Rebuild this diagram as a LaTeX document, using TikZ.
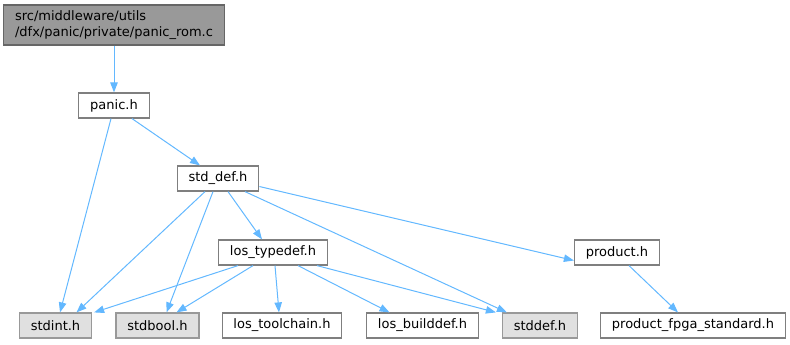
\documentclass[tikz,border=0pt]{standalone}
\usepackage{fontspec}
\setmainfont{DejaVu Sans}
\usepackage{xcolor}
\usepackage{tikz}
\usetikzlibrary{arrows.meta}
\definecolor{edgeblue}{HTML}{63B8FF}
\definecolor{rootgray}{HTML}{999999}
\definecolor{rootframe}{HTML}{666666}
\definecolor{sysgray}{HTML}{E0E0E0}
\definecolor{framegray}{HTML}{7F7F7F}
\tikzset{
  file/.style={rectangle, draw=framegray, fill=white, line width=0.9pt, minimum height=18.75pt, inner xsep=8.5pt, inner ysep=0pt, font=\fontsize{9.75}{11.7}\selectfont},
  rootfile/.style={file, draw=rootframe, fill=rootgray, align=left, minimum height=30pt},
  sysfile/.style={file, draw=rootgray, fill=sysgray},
  dep/.style={-{Triangle[length=7.5pt, width=5.6pt]}, draw=edgeblue, line width=0.75pt}
}

\begin{document}
\begin{tikzpicture}[x=0.75pt, y=-0.75pt]
\useasboundingbox (0,0) rectangle (790,344);
\node[rootfile] (rom) at (114,25) {src/middleware/utils\\/dfx/panic/private/panic\_rom.c};
\node[file] (panic) at (114,105.5) {panic.h};
\node[file] (stddefh) at (218,178.5) {std\_def.h};
\node[file] (typedef) at (273,252.5) {los\_typedef.h};
\node[file] (product) at (617,252.5) {product.h};
\node[sysfile] (stdint) at (55.5,325.5) {stdint.h};
\node[sysfile] (stdbool) at (157.5,325.5) {stdbool.h};
\node[file] (toolchain) at (282,325.5) {los\_toolchain.h};
\node[file] (builddef) at (422.5,325.5) {los\_builddef.h};
\node[sysfile] (stddef) at (540,325.5) {stddef.h};
\node[file] (fpga) at (693,325.5) {product\_fpga\_standard.h};
\draw[dep] (rom) -- (panic);
\draw[dep] ([xshift=-2.25pt]panic.south) -- ([xshift=3.4pt]stdint.north);
\draw[dep] ([xshift=13.5pt]panic.south) -- ([xshift=-13.5pt]stddefh.north);
\draw[dep] ([xshift=-9.75pt]stddefh.south) -- ([xshift=15.75pt]stdint.north);
\draw[dep] ([xshift=-3.75pt]stddefh.south) -- ([xshift=6.75pt]stdbool.north);
\draw[dep] ([xshift=7.5pt]stddefh.south) -- ([xshift=-8.25pt]typedef.north);
\draw[dep] ([xshift=20.25pt]stddefh.south) -- ([xshift=3.75pt]stddef.north west);
\draw[dep] ([yshift=-6pt]stddefh.east) -- ([yshift=-6pt]product.west);
\draw[dep] ([xshift=-26.25pt]typedef.south) -- ([xshift=1.5pt]stdint.north east);
\draw[dep] ([xshift=-15pt]typedef.south) -- ([xshift=14.25pt]stdbool.north);
\draw[dep] ([xshift=1.5pt]typedef.south) -- ([xshift=-2.25pt]toolchain.north);
\draw[dep] ([xshift=18.75pt]typedef.south) -- ([xshift=-24.75pt]builddef.north);
\draw[dep] ([xshift=33pt]typedef.south) -- ([xshift=-4.5pt]stddef.north west);
\draw[dep] ([xshift=9pt]product.south) -- ([xshift=-11.25pt]fpga.north);
\end{tikzpicture}
\end{document}
